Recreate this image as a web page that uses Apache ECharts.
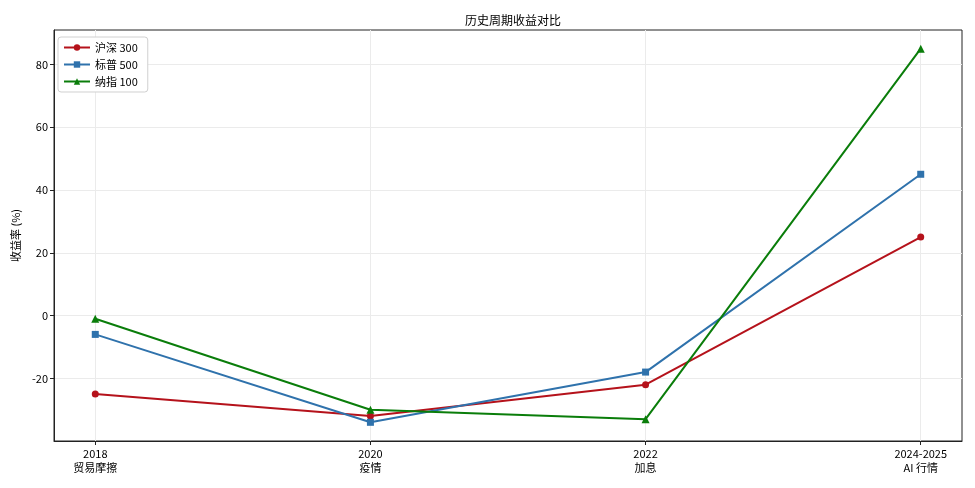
<!DOCTYPE html>
<html>
<head>
<meta charset="utf-8">
<script src="https://cdn.jsdelivr.net/npm/echarts@6/dist/echarts.min.js"></script>
<style>
  html, body { margin: 0; padding: 0; background: #fff; }
  #chart { width: 975px; height: 488px; }
</style>
</head>
<body>
<div id="chart"></div>
<script>
const periods = ["2018\n贸易摩擦", "2020\n疫情", "2022\n加息", "2024-2025\nAI 行情"];
const hs300 = [-25, -32, -22, 25];
const sp500 = [-6, -34, -18, 45];
const ndx100 = [-1, -30, -33, 85];
const yTicks = [-20, 0, 20, 40, 60, 80];

const font = "'Noto Sans CJK SC', sans-serif";

function toPoints(arr) {
  return arr.map((v, i) => [i, v]);
}

function makeSeries(name, data, color, symbol) {
  return {
    name: name,
    type: "line",
    data: toPoints(data),
    symbol: symbol,
    symbolSize: symbol === "triangle" ? 8 : 7,
    lineStyle: { color: color, width: 2 },
    itemStyle: { color: color },
    emphasis: { disabled: true },
  };
}

const chart = echarts.init(document.getElementById("chart"));
chart.setOption({
  backgroundColor: "#fff",
  animation: false,
  title: {
    text: "历史周期收益对比",
    left: 508,
    top: 9,
    textAlign: "center",
    textStyle: { fontFamily: font, fontSize: 12, fontWeight: "normal", color: "#000" },
  },
  legend: {
    orient: "vertical",
    left: 58,
    top: 37,
    itemWidth: 26,
    itemHeight: 8,
    itemGap: 6,
    padding: [5, 10, 5, 5],
    backgroundColor: "#fff",
    borderColor: "#d0d0d0",
    borderWidth: 1,
    borderRadius: 3,
    textStyle: { fontFamily: font, fontSize: 11, color: "#000" },
    data: ["沪深 300", "标普 500", "纳指 100"],
  },
  grid: {
    left: 54,
    right: 13,
    top: 30,
    bottom: 47,
    show: true,
    borderColor: "#222",
    borderWidth: 1,
    backgroundColor: "transparent",
  },
  xAxis: {
    type: "value",
    min: -0.15,
    max: 3.15,
    axisLine: { show: true, onZero: false, lineStyle: { color: "#222" } },
    axisTick: { show: true, length: 4, customValues: [0, 1, 2, 3], lineStyle: { color: "#222" } },
    axisLabel: {
      customValues: [0, 1, 2, 3],
      formatter: (v) => periods[Math.round(v)],
      fontFamily: font,
      fontSize: 11,
      color: "#000",
      lineHeight: 14,
      margin: 6,
    },
    splitLine: { show: true, lineStyle: { color: "#ebebeb", width: 1 } },
  },
  yAxis: {
    type: "value",
    min: -39.95,
    max: 90.95,
    name: "收益率 (%)",
    nameLocation: "middle",
    nameGap: 33,
    nameTextStyle: { fontFamily: font, fontSize: 11, color: "#000" },
    axisLine: { show: true, onZero: false, lineStyle: { color: "#222" } },
    axisTick: { show: true, length: 4, customValues: yTicks, lineStyle: { color: "#222" } },
    axisLabel: {
      customValues: yTicks,
      fontFamily: font,
      fontSize: 11,
      color: "#000",
      margin: 6,
    },
    splitLine: { show: true, lineStyle: { color: "#ebebeb", width: 1 } },
  },
  series: [
    makeSeries("沪深 300", hs300, "#b5121b", "circle"),
    makeSeries("标普 500", sp500, "#2f72ac", "rect"),
    makeSeries("纳指 100", ndx100, "#0a7d0a", "triangle"),
  ],
});
</script>
</body>
</html>
